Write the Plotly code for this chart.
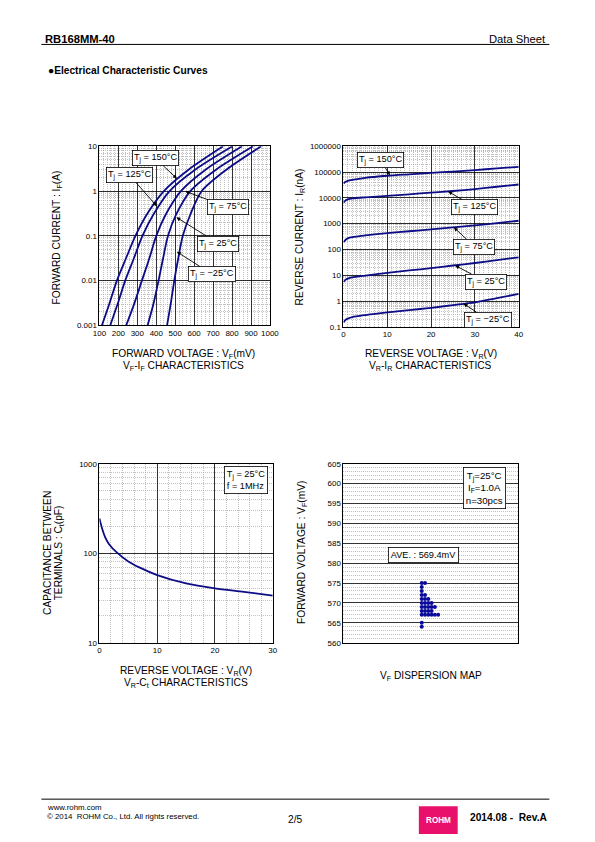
import numpy as np
import plotly.graph_objects as go

# ---------------- data ----------------
# VF-IF characteristics (forward current in A, forward voltage in mV)
if_a = [0.001, 0.003, 0.01, 0.03, 0.1, 0.3, 1, 3, 10]
vf_150 = [113, 152, 192, 238, 290, 350, 440, 570, 753]
vf_125 = [157, 196, 236, 280, 327, 385, 470, 605, 802]
vf_75 = [241, 283, 324, 362, 400, 450, 530, 660, 853]
vf_25 = [354, 385, 412, 435, 462, 505, 580, 715, 911]
vf_m25 = [457, 476, 495, 515, 540, 580, 640, 770, 954]

# VR-IR characteristics (reverse voltage V, reverse current nA)
vr = [0, 0.5, 1, 2, 5, 10, 15, 20, 25, 30, 35, 40]
ir_150 = [36000, 42000, 46000, 50000, 60000, 72000, 82000, 93000, 105000, 120000, 138000, 160000]
ir_125 = [6500, 8000, 8800, 9500, 10500, 12000, 13800, 16000, 18500, 22000, 27000, 33000]
ir_75 = [190, 240, 270, 300, 350, 430, 510, 600, 720, 860, 1050, 1300]
ir_25 = [5.5, 6.8, 7.5, 8.3, 9.8, 12.5, 15.5, 19, 24, 30, 39, 50]
ir_m25 = [0.15, 0.19, 0.21, 0.24, 0.29, 0.37, 0.45, 0.55, 0.7, 0.9, 1.3, 1.9]

# VR-Ct characteristics
vr_c = [0, 0.5, 1, 1.7, 3, 5, 7, 10, 15, 20, 25, 30]
ct_pf = [245, 185, 150, 125, 102, 81, 69, 57, 46, 40.5, 37, 33.6]

# VF dispersion (mV), n=30
vf_disp = [575, 575, 574, 573, 572, 572, 571, 571, 571,
           570, 570, 570, 570, 569, 569, 569, 569, 569,
           568, 568, 568, 568, 567, 567, 567, 567, 567, 567,
           565, 564]

fwd_ticks = [0.001, 0.01, 0.1, 1, 10]
fwd_ticktext = ["0.001", "0.01", "0.1", "1", "10"]
rev_ticks = [0.1, 1, 10, 100, 1000, 10000, 100000, 1000000]
rev_ticktext = ["0.1", "1", "10", "100", "1000", "10000", "100000", "1000000"]
cap_ticks = [10, 100, 1000]
cap_ticktext = ["10", "100", "1000"]

temps = ["150", "125", "75", "25", "\u221225"]

# ---------------- helpers ----------------
W, H = 595, 842
FONT = "Liberation Sans, Arial, sans-serif"
NAVY = "#0c0c86"
# compensation for the capture transform observed in the rendering
AX, BX = 5.5, 0.977
AY, BY = 3.5, 0.991
FS = 1.02


def px(x):
    return ((x - AX) / BX) / W


def py(y):
    return 1 - ((y - AY) / BY) / H


fig = go.Figure()

fwd_series = [vf_150, vf_125, vf_75, vf_25, vf_m25]
for t, vf in zip(temps, fwd_series):
    fig.add_trace(go.Scatter(x=vf, y=if_a, mode="lines", xaxis="x", yaxis="y",
                             line=dict(color=NAVY, width=1.8, shape="spline", smoothing=0.8),
                             name=t, showlegend=False))

rev_series = [ir_150, ir_125, ir_75, ir_25, ir_m25]
for t, ir in zip(temps, rev_series):
    fig.add_trace(go.Scatter(x=vr, y=ir, mode="lines", xaxis="x2", yaxis="y2",
                             line=dict(color=NAVY, width=1.8, shape="spline", smoothing=0.8),
                             name=t, showlegend=False))

fig.add_trace(go.Scatter(x=vr_c, y=ct_pf, mode="lines", xaxis="x3", yaxis="y3",
                         line=dict(color=NAVY, width=1.8, shape="spline", smoothing=0.8),
                         showlegend=False))

# dot-stack the dispersion data
counts = {}
dx, dy = [], []
col0 = 23.8
for v in vf_disp:
    k = counts.get(v, 0)
    counts[v] = k + 1
    dx.append(col0 + k)
    dy.append(v)
fig.add_trace(go.Scatter(x=dx, y=dy, mode="markers", xaxis="x4", yaxis="y4",
                         marker=dict(color="#0a0a9a", size=4, symbol="circle"),
                         showlegend=False))

tickfont = dict(family=FONT, size=7.8 * FS, color="black")
minor_grid = dict(showgrid=True, gridcolor="#9a9a9a", griddash="1px,1px", gridwidth=0.6)


def axis(domain, anchor, **kw):
    d = dict(domain=domain, anchor=anchor, showline=True, linecolor="black", linewidth=1,
             mirror=True, ticks="", showgrid=True, gridcolor="black", gridwidth=0.8,
             zeroline=False, tickfont=tickfont, fixedrange=True)
    d.update(kw)
    return d


layout = dict(
    width=W, height=H, margin=dict(l=0, r=0, t=0, b=0),
    paper_bgcolor="white", plot_bgcolor="white",
    font=dict(family=FONT, color="black"),
    xaxis=axis([px(98.3), px(269.5)], "y", range=[100, 1000], dtick=100,
               minor=dict(dtick=20, **minor_grid)),
    yaxis=axis([py(325.5), py(146)], "x", type="log", range=[-3, 1],
               tickvals=fwd_ticks, ticktext=fwd_ticktext,
               minor=dict(dtick="D1", **minor_grid)),
    xaxis2=axis([px(343.3), px(519.3)], "y2", range=[0, 40], dtick=10,
                minor=dict(dtick=1, **minor_grid)),
    yaxis2=axis([py(327), py(146)], "x2", type="log", range=[-1, 6],
                tickvals=rev_ticks, ticktext=rev_ticktext,
                minor=dict(dtick="D1", **minor_grid)),
    xaxis3=axis([px(98.3), px(272.3)], "y3", range=[0, 30], dtick=10,
                minor=dict(dtick=2, **minor_grid)),
    yaxis3=axis([py(643.3), py(464)], "x3", type="log", range=[1, 3],
                tickvals=cap_ticks, ticktext=cap_ticktext,
                minor=dict(dtick="D1", **minor_grid)),
    xaxis4=axis([px(343.3), px(518.3)], "y4", range=[0, 53], showgrid=False,
                showticklabels=False),
    yaxis4=axis([py(643.3), py(464)], "x4", range=[560, 605], dtick=5,
                minor=dict(dtick=1, **minor_grid)),
)
fig.update_layout(**layout)

ann = []


def text(x, y, s, size=10, bold=False, xanchor="center", angle=0, color="black"):
    if bold:
        s = "<b>" + s + "</b>"
    ann.append(dict(x=px(x), y=py(y), xref="paper", yref="paper", text=s, showarrow=False,
                    xanchor=xanchor, yanchor="middle", textangle=angle,
                    font=dict(family=FONT, size=size * FS, color=color)))


# header / footer
text(42, 38.5, "RB168MM-40", size=11, bold=True, xanchor="left")
text(548.5, 38.5, "Data Sheet", size=11, xanchor="right")
text(45, 70, "\u25cfElectrical Characteristic Curves", size=10, bold=True, xanchor="left")
text(43.5, 808.5, "www.rohm.com", size=7.7, xanchor="left")
text(43.5, 817.5, "\u00a9 2014  ROHM Co., Ltd. All rights reserved.", size=7.7, xanchor="left")
text(295, 820, "2/5", size=10)
text(438.5, 821, "ROHM", size=8, bold=True, color="white")
text(549.5, 818.5, "2014.08 -  Rev.A", size=10, bold=True, xanchor="right")

# axis titles
text(183, 355, "FORWARD VOLTAGE : V<sub>F</sub>(mV)")
text(183, 367, "V<sub>F</sub>-I<sub>F</sub> CHARACTERISTICS")
text(56, 237, "FORWARD CURRENT : I<sub>F</sub>(A)", angle=-90)
text(431, 355, "REVERSE VOLTAGE : V<sub>R</sub>(V)")
text(431, 367, "V<sub>R</sub>-I<sub>R</sub> CHARACTERISTICS")
text(300, 237, "REVERSE CURRENT : I<sub>R</sub>(nA)", angle=-90)
text(185, 672, "REVERSE VOLTAGE : V<sub>R</sub>(V)")
text(185, 684, "V<sub>R</sub>-C<sub>t</sub> CHARACTERISTICS")
text(46, 553, "CAPACITANCE BETWEEN", angle=-90)
text(58.5, 553, "TERMINALS : C<sub>t</sub>(pF)", angle=-90)
text(302, 553, "FORWARD VOLTAGE : V<sub>F</sub>(mV)", angle=-90)
text(431, 677, "V<sub>F</sub> DISPERSION MAP")

# curve labels with arrows
fwd_tips = [(509, 1.9), (403, 0.46), (553, 0.99), (506, 0.26), (509, 0.044)]
fwd_offs = [(-21, -20), (-27, -31), (42, 16), (41, 26), (34, 22)]
rev_tips = [(10.6, 75000), (23.9, 17500), (25.2, 720), (25.5, 24), (27.4, 0.8)]
rev_offs = [(-9, -15), (26, 15), (20, 19), (30, 16), (24, 16)]


def label(xr, yr, x, y, off, s):
    ann.append(dict(x=x, y=np.log10(y), xref=xr, yref=yr, text=s, showarrow=True,
                    ax=off[0] / BX, ay=off[1] / BY, arrowhead=2, arrowsize=0.9, arrowwidth=0.9,
                    arrowcolor="black", bgcolor="white", bordercolor="black", borderwidth=0.8,
                    borderpad=1.2, font=dict(family=FONT, size=9 * FS, color="black")))


for t, tip, off in zip(temps, fwd_tips, fwd_offs):
    label("x", "y", tip[0], tip[1], off, "T<sub>j</sub> = %s\u00b0C" % t)
for t, tip, off in zip(temps, rev_tips, rev_offs):
    label("x2", "y2", tip[0], tip[1], off, "T<sub>j</sub> = %s\u00b0C" % t)

# boxes
ann.append(dict(x=px(245), y=py(480.5), xref="paper", yref="paper",
                xanchor="center", yanchor="middle",
                text="T<sub>j</sub> = 25\u00b0C<br>f = 1MHz", showarrow=False,
                bgcolor="white", bordercolor="black", borderwidth=0.8, borderpad=2,
                align="left", font=dict(family=FONT, size=9 * FS, color="black")))
ann.append(dict(x=px(485), y=py(488.8), xref="paper", yref="paper",
                xanchor="center", yanchor="middle",
                text="T<sub>j</sub>=25\u00b0C<br>I<sub>F</sub>=1.0A<br>n=30pcs", showarrow=False,
                bgcolor="white", bordercolor="black", borderwidth=0.8, borderpad=2,
                align="center", font=dict(family=FONT, size=9.5 * FS, color="black")))
ann.append(dict(x=px(424), y=py(555), xref="paper", yref="paper",
                xanchor="center", yanchor="middle",
                text="AVE. : %.1fmV" % np.mean(vf_disp), showarrow=False,
                bgcolor="white", bordercolor="black", borderwidth=0.8, borderpad=2,
                font=dict(family=FONT, size=9 * FS, color="black")))

fig.update_layout(annotations=ann)

shapes = [
    dict(type="line", xref="paper", yref="paper", x0=px(40), x1=px(550), y0=py(44), y1=py(44),
         line=dict(color="black", width=1)),
    dict(type="line", xref="paper", yref="paper", x0=px(40), x1=px(550), y0=py(800), y1=py(800),
         line=dict(color="black", width=1)),
    dict(type="rect", xref="paper", yref="paper", x0=px(419), x1=px(458), y0=py(835), y1=py(807),
         fillcolor="#e8106a", line=dict(width=0)),
]
fig.update_layout(shapes=shapes)

fig.write_html("out.html", config={"displayModeBar": False, "staticPlot": True},
               post_script="document.documentElement.style.margin='0px';"
                           "document.documentElement.style.padding='0px';"
                           "document.documentElement.style.overflow='hidden';"
                           "document.body.style.margin='0px';"
                           "document.body.style.padding='0px';"
                           "document.body.style.overflow='hidden';")
